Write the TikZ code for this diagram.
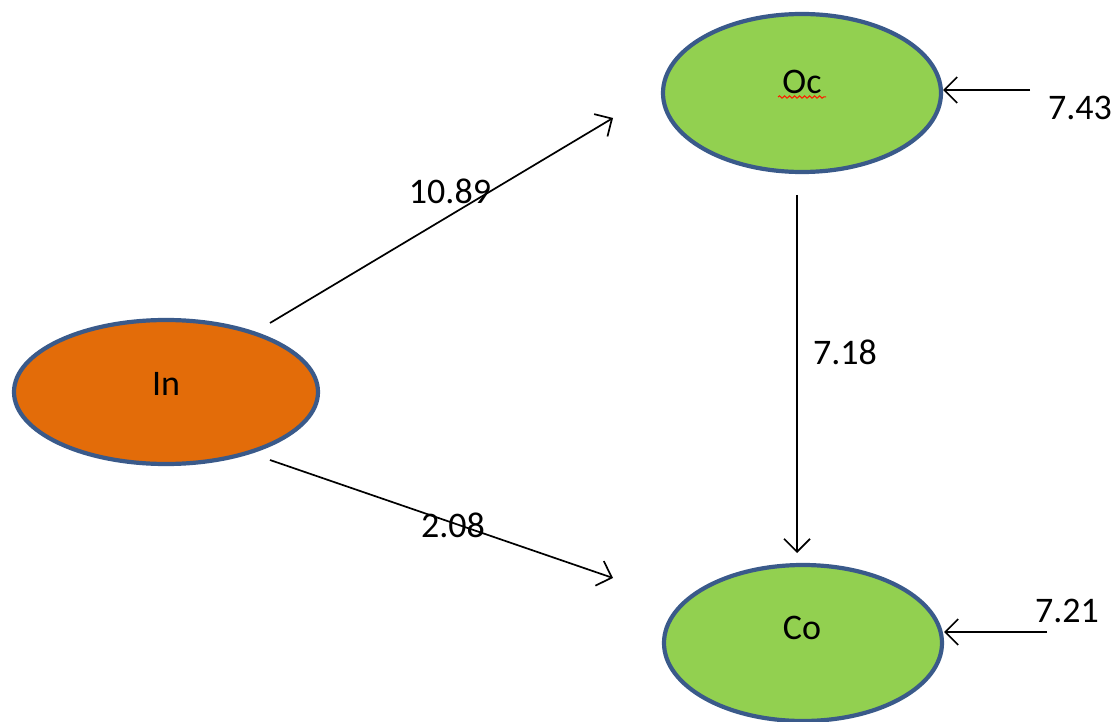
\documentclass[tikz,border=0pt]{standalone}
\usepackage{fontspec}
\setmainfont{Carlito}
\usetikzlibrary{arrows.meta,decorations.pathmorphing}
\definecolor{nodegreen}{HTML}{92D050}
\definecolor{nodeorange}{HTML}{E36C09}
\definecolor{nodeborder}{HTML}{3A5A8A}
\tikzset{
  varshape/.style={draw=nodeborder, line width=4.2pt},
  conn/.style={line width=1.7pt, -{Straight Barb[length=13pt,width=26pt,line width=1.7pt]}},
  lab/.style={font=\fontsize{36}{40}\selectfont, inner sep=0pt},
}
\begin{document}
\begin{tikzpicture}[x=1pt,y=-1pt]
\useasboundingbox (0,0) rectangle (1117,722);
\fill[white] (0,0) rectangle (1117,722);
% ellipses
\filldraw[varshape, fill=nodegreen] (802,93) ellipse [x radius=139, y radius=79];
\filldraw[varshape, fill=nodegreen] (803,643) ellipse [x radius=139, y radius=78];
\filldraw[varshape, fill=nodeorange] (166,392) ellipse [x radius=152, y radius=72];
\node[lab] (oc) at (802,82) {Oc};
\node[lab] (co) at (802,628) {Co};
\node[lab] (in) at (166,384) {In};
\draw[red!80!orange, line width=1pt, decorate, decoration={snake, amplitude=1.2pt, segment length=5pt}] (778,97) -- (826,97);
% connector endpoints
\coordinate (inT) at (270,323);
\coordinate (ocL) at (613,118);
\coordinate (inB) at (270,460);
\coordinate (coL) at (613,578);
\coordinate (ocB) at (797,195);
\coordinate (coT) at (797,553);
\coordinate (ocR) at (943,90);
\coordinate (e1) at (1030,90);
\coordinate (coR) at (944,632);
\coordinate (e2) at (1047,632);
\draw[conn] (inT) -- (ocL);
\draw[conn] (inB) -- (coL);
\draw[conn] (ocB) -- (coT);
\draw[conn] (e1) -- (ocR);
\draw[conn] (e2) -- (coR);
% labels
\node[lab] (l1) at (450,191) {10.89};
\node[lab] (l2) at (453,525) {2.08};
\node[lab] (l3) at (845,352) {7.18};
\node[lab] (l4) at (1080,108) {7.43};
\node[lab] (l5) at (1067,611) {7.21};
\end{tikzpicture}
\end{document}
